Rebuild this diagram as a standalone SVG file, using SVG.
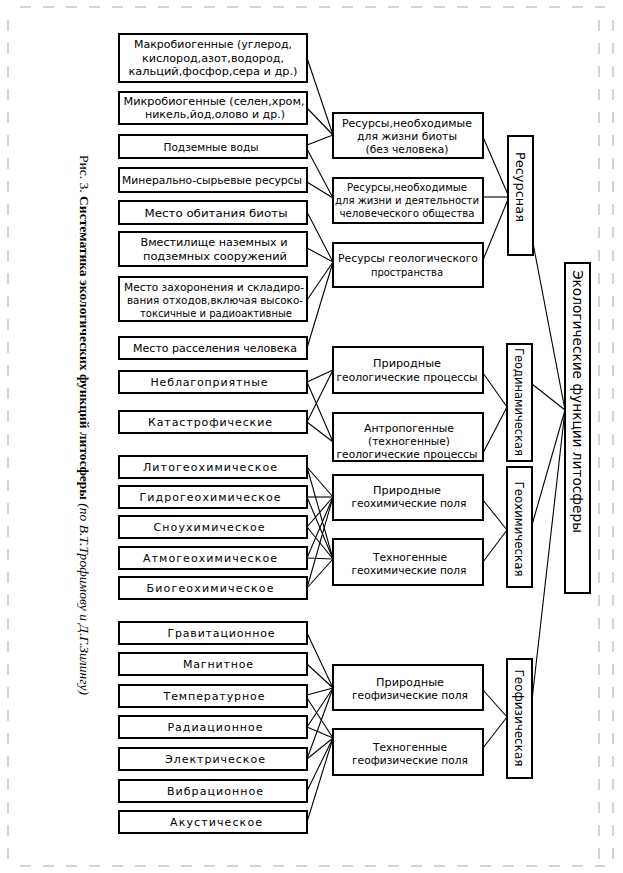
<svg xmlns="http://www.w3.org/2000/svg" width="623" height="873" viewBox="0 0 623 873">
<style>
.b{fill:#fff;stroke:#000;stroke-width:2}
.t{font-family:"DejaVu Sans","Liberation Sans",sans-serif;font-size:11px;fill:#000;text-anchor:middle}
.v{font-family:"DejaVu Sans","Liberation Sans",sans-serif;font-size:12.5px;fill:#000;text-anchor:middle}
.c line{stroke:#000;stroke-width:1.1}
.cap{font-family:"Liberation Serif","Times New Roman",serif;font-size:13.5px;fill:#000}
.edge{stroke:#d4d4d4;stroke-width:2;stroke-dasharray:11 12;fill:none}
</style>
<rect width="623" height="873" fill="#fff"/>
<g id="edges">
<line class="edge" x1="20" y1="7" x2="605" y2="7"/>
<line class="edge" x1="20" y1="866" x2="605" y2="866"/>
<line class="edge" x1="8" y1="20" x2="8" y2="860"/>
<line class="edge" x1="599" y1="20" x2="599" y2="860"/>
<line class="edge" x1="613" y1="20" x2="613" y2="860"/>
</g>
<g id="caption">
<text class="cap" transform="translate(80,155) rotate(90)" textLength="540" lengthAdjust="spacingAndGlyphs">Рис. 3. <tspan font-weight="bold">Систематика экологических функций литосферы</tspan> <tspan font-style="italic">(по В.Т.Трофимову и Д.Г.Зилингу)</tspan></text>
</g>
<g class="c" id="connectors">
<line x1="307" y1="58" x2="333" y2="135"/>
<line x1="307" y1="108" x2="333" y2="135"/>
<line x1="307" y1="145" x2="333" y2="135"/>
<line x1="307" y1="149" x2="333" y2="198"/>
<line x1="307" y1="182" x2="333" y2="198"/>
<line x1="307" y1="212" x2="333" y2="262"/>
<line x1="307" y1="248" x2="333" y2="262"/>
<line x1="307" y1="300" x2="333" y2="262"/>
<line x1="307" y1="348" x2="333" y2="262"/>
<line x1="483" y1="137" x2="509" y2="197"/>
<line x1="483" y1="197" x2="509" y2="197"/>
<line x1="483" y1="260" x2="509" y2="197"/>
<line x1="307" y1="382" x2="333" y2="370"/>
<line x1="307" y1="382" x2="333" y2="442"/>
<line x1="307" y1="422" x2="333" y2="370"/>
<line x1="307" y1="422" x2="333" y2="442"/>
<line x1="483" y1="373" x2="507" y2="407"/>
<line x1="483" y1="453" x2="507" y2="407"/>
<line x1="307" y1="467" x2="333" y2="497"/>
<line x1="307" y1="467" x2="333" y2="559"/>
<line x1="307" y1="497" x2="333" y2="497"/>
<line x1="307" y1="497" x2="333" y2="559"/>
<line x1="307" y1="527" x2="333" y2="497"/>
<line x1="307" y1="527" x2="333" y2="559"/>
<line x1="307" y1="558" x2="333" y2="497"/>
<line x1="307" y1="558" x2="333" y2="559"/>
<line x1="307" y1="588" x2="333" y2="497"/>
<line x1="307" y1="588" x2="333" y2="559"/>
<line x1="483" y1="500" x2="507" y2="530"/>
<line x1="483" y1="562" x2="507" y2="530"/>
<line x1="307" y1="633" x2="333" y2="688"/>
<line x1="307" y1="664" x2="333" y2="688"/>
<line x1="307" y1="695" x2="333" y2="688"/>
<line x1="307" y1="698" x2="333" y2="738"/>
<line x1="307" y1="727" x2="333" y2="688"/>
<line x1="307" y1="727" x2="333" y2="738"/>
<line x1="307" y1="759" x2="333" y2="688"/>
<line x1="307" y1="759" x2="333" y2="738"/>
<line x1="307" y1="791" x2="333" y2="738"/>
<line x1="307" y1="822" x2="333" y2="738"/>
<line x1="483" y1="690" x2="507" y2="717"/>
<line x1="483" y1="748" x2="507" y2="717"/>
<line x1="533" y1="243" x2="565" y2="410"/>
<line x1="532" y1="384" x2="565" y2="410"/>
<line x1="532" y1="525" x2="565" y2="410"/>
<line x1="532" y1="700" x2="565" y2="410"/>
</g>
<g id="n1"><rect class="b" x="119" y="34" width="188" height="48"/><text class="t" x="213" y="48" textLength="158" lengthAdjust="spacingAndGlyphs">Макробиогенные (углерод,</text><text class="t" x="213" y="61.5" textLength="142" lengthAdjust="spacingAndGlyphs">кислород,азот,водород,</text><text class="t" x="213" y="75" textLength="169" lengthAdjust="spacingAndGlyphs">кальций,фосфор,сера и др.)</text></g>
<g id="n2"><rect class="b" x="119" y="92" width="188" height="32"/><text class="t" x="214" y="105" textLength="181" lengthAdjust="spacingAndGlyphs">Микробиогенные (селен,хром,</text><text class="t" x="215" y="118" textLength="140" lengthAdjust="spacingAndGlyphs">никель,йод,олово  и др.)</text></g>
<g id="n3"><rect class="b" x="119" y="135" width="188" height="23"/><text class="t" x="211" y="151" textLength="95" lengthAdjust="spacingAndGlyphs">Подземные воды</text></g>
<g id="n4"><rect class="b" x="119" y="168" width="188" height="24"/><text class="t" x="212" y="184" textLength="180" lengthAdjust="spacingAndGlyphs">Минерально-сырьевые ресурсы</text></g>
<g id="n5"><rect class="b" x="119" y="201" width="188" height="23"/><text class="t" x="216" y="217" textLength="143" lengthAdjust="spacingAndGlyphs">Место  обитания биоты</text></g>
<g id="n6"><rect class="b" x="119" y="232" width="188" height="34"/><text class="t" x="214" y="246" textLength="147" lengthAdjust="spacingAndGlyphs">Вместилище наземных и</text><text class="t" x="215" y="260" textLength="144" lengthAdjust="spacingAndGlyphs">подземных сооружений</text></g>
<g id="n7"><rect class="b" x="119" y="277" width="188" height="44"/><text class="t" x="214" y="291" textLength="180" lengthAdjust="spacingAndGlyphs">Место  захоронения и складиро-</text><text class="t" x="215" y="304" textLength="176" lengthAdjust="spacingAndGlyphs">вания отходов,включая высоко-</text><text class="t" x="216" y="317" textLength="152" lengthAdjust="spacingAndGlyphs">токсичные и радиоактивные</text></g>
<g id="n8"><rect class="b" x="119" y="337" width="188" height="22"/><text class="t" x="215" y="352" textLength="164" lengthAdjust="spacingAndGlyphs">Место  расселения человека</text></g>
<g id="n9"><rect class="b" x="119" y="371" width="188" height="22"/><text class="t" x="209" y="386" textLength="117" lengthAdjust="spacing">Неблагоприятные</text></g>
<g id="n10"><rect class="b" x="119" y="411" width="188" height="22"/><text class="t" x="210" y="426" textLength="124" lengthAdjust="spacing">Катастрофические</text></g>
<g id="n11"><rect class="b" x="119" y="456" width="188" height="22"/><text class="t" x="210" y="471" textLength="134" lengthAdjust="spacing">Литогеохимическое</text></g>
<g id="n12"><rect class="b" x="119" y="486" width="188" height="22"/><text class="t" x="210" y="501" textLength="141" lengthAdjust="spacing">Гидрогеохимическое</text></g>
<g id="n13"><rect class="b" x="119" y="516" width="188" height="22"/><text class="t" x="209" y="531" textLength="111" lengthAdjust="spacing">Сноухимическое</text></g>
<g id="n14"><rect class="b" x="119" y="547" width="188" height="22"/><text class="t" x="210" y="562" textLength="134" lengthAdjust="spacing">Атмогеохимическое</text></g>
<g id="n15"><rect class="b" x="119" y="577" width="188" height="22"/><text class="t" x="210" y="592" textLength="127" lengthAdjust="spacing">Биогеохимическое</text></g>
<g id="n16"><rect class="b" x="119" y="622" width="188" height="22"/><text class="t" x="221" y="637" textLength="107" lengthAdjust="spacing">Гравитационное</text></g>
<g id="n17"><rect class="b" x="119" y="653" width="188" height="22"/><text class="t" x="218" y="668" textLength="70" lengthAdjust="spacing">Магнитное</text></g>
<g id="n18"><rect class="b" x="119" y="685" width="188" height="22"/><text class="t" x="214" y="700" textLength="101" lengthAdjust="spacing">Температурное</text></g>
<g id="n19"><rect class="b" x="119" y="716" width="188" height="22"/><text class="t" x="215" y="731" textLength="95" lengthAdjust="spacing">Радиационное</text></g>
<g id="n20"><rect class="b" x="119" y="748" width="188" height="22"/><text class="t" x="215" y="763" textLength="100" lengthAdjust="spacing">Электрическое</text></g>
<g id="n21"><rect class="b" x="119" y="780" width="188" height="22"/><text class="t" x="215" y="795" textLength="96" lengthAdjust="spacing">Вибрационное</text></g>
<g id="n22"><rect class="b" x="119" y="811" width="188" height="22"/><text class="t" x="216" y="826" textLength="92" lengthAdjust="spacing">Акустическое</text></g>
<g id="m1"><rect class="b" x="333" y="113" width="150" height="45"/><text class="t" x="407" y="127" textLength="130" lengthAdjust="spacingAndGlyphs">Ресурсы,необходимые</text><text class="t" x="407" y="140" textLength="100" lengthAdjust="spacingAndGlyphs">для жизни биоты</text><text class="t" x="407" y="153" textLength="83" lengthAdjust="spacingAndGlyphs">(без человека)</text></g>
<g id="m2"><rect class="b" x="333" y="178" width="150" height="45"/><text class="t" x="407" y="191" textLength="120" lengthAdjust="spacingAndGlyphs">Ресурсы,необходимые</text><text class="t" x="407" y="204" textLength="144" lengthAdjust="spacingAndGlyphs">для жизни и деятельности</text><text class="t" x="407" y="217" textLength="135" lengthAdjust="spacingAndGlyphs">человеческого  общества</text></g>
<g id="m3"><rect class="b" x="333" y="243" width="150" height="44"/><text class="t" x="408" y="262" textLength="140" lengthAdjust="spacingAndGlyphs">Ресурсы геологического</text><text class="t" x="407" y="276" textLength="72" lengthAdjust="spacingAndGlyphs">пространства</text></g>
<g id="m4"><rect class="b" x="333" y="347" width="150" height="46"/><text class="t" x="407" y="367" textLength="68" lengthAdjust="spacingAndGlyphs">Природные</text><text class="t" x="407" y="381" textLength="141" lengthAdjust="spacingAndGlyphs">геологические процессы</text></g>
<g id="m5"><rect class="b" x="333" y="413" width="150" height="48"/><text class="t" x="409" y="432" textLength="90" lengthAdjust="spacingAndGlyphs">Антропогенные</text><text class="t" x="409" y="445" textLength="82" lengthAdjust="spacingAndGlyphs">(техногенные)</text><text class="t" x="407" y="458" textLength="141" lengthAdjust="spacingAndGlyphs">геологические процессы</text></g>
<g id="m6"><rect class="b" x="333" y="475" width="150" height="45"/><text class="t" x="407" y="494" textLength="68" lengthAdjust="spacingAndGlyphs">Природные</text><text class="t" x="409" y="507" textLength="115" lengthAdjust="spacingAndGlyphs">геохимические поля</text></g>
<g id="m7"><rect class="b" x="333" y="539" width="150" height="46"/><text class="t" x="410" y="561" textLength="74" lengthAdjust="spacingAndGlyphs">Техногенные</text><text class="t" x="409" y="574" textLength="115" lengthAdjust="spacingAndGlyphs">геохимические поля</text></g>
<g id="m8"><rect class="b" x="333" y="665" width="150" height="45"/><text class="t" x="410" y="686" textLength="68" lengthAdjust="spacingAndGlyphs">Природные</text><text class="t" x="410" y="699" textLength="116" lengthAdjust="spacingAndGlyphs">геофизические поля</text></g>
<g id="m9"><rect class="b" x="333" y="729" width="150" height="46"/><text class="t" x="410" y="751" textLength="74" lengthAdjust="spacingAndGlyphs">Техногенные</text><text class="t" x="410" y="764" textLength="116" lengthAdjust="spacingAndGlyphs">геофизические поля</text></g>
<g id="r1"><rect class="b" x="508" y="136" width="25" height="119"/><text class="v" transform="translate(516,187) rotate(90)" textLength="70" lengthAdjust="spacingAndGlyphs">Ресурсная</text></g>
<g id="r2"><rect class="b" x="507" y="344" width="25" height="117"/><text class="v" transform="translate(515,402) rotate(90)" textLength="108" lengthAdjust="spacingAndGlyphs">Геодинамическая</text></g>
<g id="r3"><rect class="b" x="507" y="467" width="25" height="120"/><text class="v" transform="translate(515,529) rotate(90)" textLength="95" lengthAdjust="spacingAndGlyphs">Геохимическая</text></g>
<g id="r4"><rect class="b" x="507" y="659" width="25" height="119"/><text class="v" transform="translate(515,718) rotate(90)" textLength="97" lengthAdjust="spacingAndGlyphs">Геофизическая</text></g>
<g id="root"><rect class="b" x="565" y="263" width="25" height="330"/><text class="v" style="font-size:14px;text-anchor:start" transform="translate(573,270) rotate(90)" textLength="263" lengthAdjust="spacingAndGlyphs">Экологические функции литосферы</text></g>
</svg>
